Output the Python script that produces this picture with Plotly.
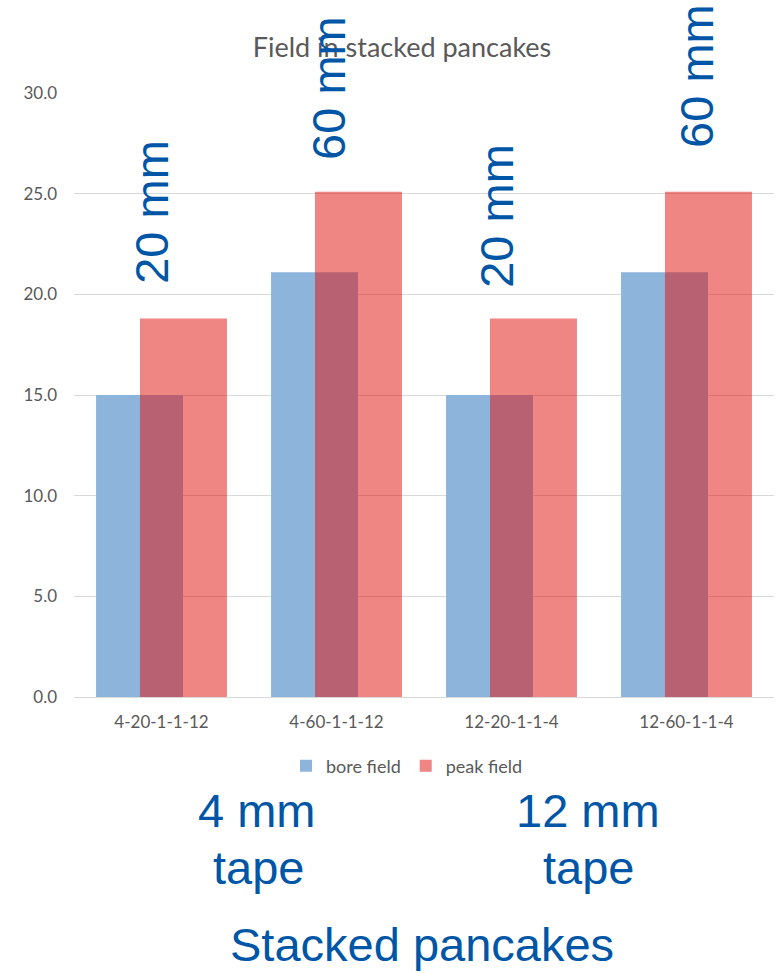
import plotly.graph_objects as go

# Coil configurations and the two field values per configuration
configs = ["4-20-1-1-12", "4-60-1-1-12", "12-20-1-1-4", "12-60-1-1-4"]
bore_field = [15.0, 21.1, 15.0, 21.1]
peak_field = [18.8, 25.1, 18.8, 25.1]

# Stack height labels written above each configuration
stack_labels = ["20 mm", "60 mm", "20 mm", "60 mm"]

y_ticks = [0, 5, 10, 15, 20, 25, 30]
Y_MAX = 30

W, H = 776, 973
PL, PR, PT, PB = 74, 2, 93, 276  # plot margins in px
PW, PH = W - PL - PR, H - PT - PB

BLUE_TXT = "#0056A6"
GRAY = "#595959"
FONT = "Lato"


def px_x(x):
    return (x - PL) / PW


def px_y(y):
    return (H - PB - y) / PH


xpos = list(range(len(configs)))

fig = go.Figure()
fig.add_trace(go.Bar(
    name="bore field", x=xpos, y=bore_field,
    width=0.497, offset=-0.374,
    marker=dict(color="rgb(141,181,219)", line=dict(width=0)),
))
fig.add_trace(go.Bar(
    name="peak field", x=xpos, y=peak_field,
    width=0.497, offset=-0.123,
    marker=dict(color="rgba(226,14,10,0.5)", line=dict(width=0)),
))

# Rotated stack-height labels: x shift within each group, value level of the label centre
label_dx = [-0.054, -0.043, -0.083, 0.06]
label_y = [24.1, 30.25, 23.9, 30.85]
for i, txt in enumerate(stack_labels):
    fig.add_annotation(
        x=xpos[i] + label_dx[i], y=label_y[i] / Y_MAX, xref="x", yref="paper",
        text=txt, textangle=-90, showarrow=False,
        xanchor="center", yanchor="middle",
        font=dict(family="Liberation Sans, Arial", size=47, color=BLUE_TXT),
    )

# Group captions under the chart
captions = [
    ("4 mm", 257, 810), ("tape", 258, 867),
    ("12 mm", 588, 810), ("tape", 588, 867),
    ("Stacked pancakes", 422, 944),
]
for txt, cx, cy in captions:
    fig.add_annotation(
        x=px_x(cx), y=px_y(cy), xref="paper", yref="paper",
        text=txt, showarrow=False, xanchor="center", yanchor="middle",
        font=dict(family="Liberation Sans, Arial", size=47, color=BLUE_TXT),
    )

fig.update_layout(
    width=W, height=H,
    margin=dict(l=PL, r=PR, t=PT, b=PB, pad=0),
    paper_bgcolor="white", plot_bgcolor="white",
    barmode="overlay",
    title=dict(
        text="Field in stacked pancakes",
        x=px_x(402), xref="paper", xanchor="center",
        y=1 - 48 / H, yref="container", yanchor="middle",
        font=dict(family=FONT, size=27, color=GRAY),
    ),
    legend=dict(
        orientation="h", x=px_x(407), xanchor="center",
        y=px_y(766), yanchor="middle",
        font=dict(family=FONT, size=18, color=GRAY),
        itemwidth=30, traceorder="normal",
    ),
    xaxis=dict(
        range=[-0.5, 3.5], tickmode="array", tickvals=xpos, ticktext=configs,
        showgrid=False, zeroline=False, showline=True,
        linecolor="#d9d9d9", linewidth=1, ticks="",
        tickfont=dict(family=FONT, size=17, color=GRAY),
        ticklabelstandoff=10,
    ),
    yaxis=dict(
        range=[0, Y_MAX], tickmode="array", tickvals=y_ticks,
        ticktext=[f"{v:.1f}" for v in y_ticks],
        showgrid=True, gridcolor="#d9d9d9", gridwidth=1,
        zeroline=False, showline=False, ticks="",
        tickfont=dict(family=FONT, size=17, color=GRAY),
        ticklabelstandoff=16,
    ),
)

fig.write_html("out.html")
